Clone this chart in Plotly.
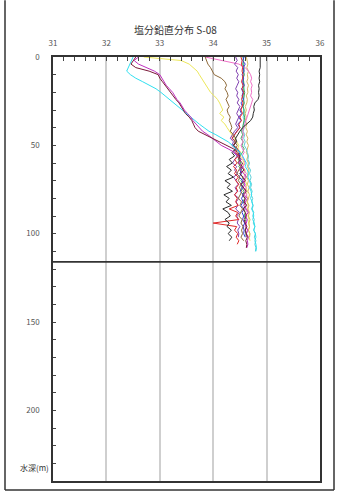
import plotly.graph_objects as go

# Sampling depths (m) shared by all casts
DEPTH = [0, 2, 4, 6, 8, 10, 12, 14, 16, 18, 20, 22, 24, 26, 28, 30, 32, 34, 36, 38,
         40, 42, 44, 46, 48, 50, 52, 54, 56, 58, 60, 62, 64, 66, 68, 70, 72, 74, 76, 78,
         80, 82, 84, 86, 88, 90, 92, 94, 96, 98, 100, 102, 104, 106, 108, 110]

# Salinity profiles (PSU), one list per cast
SAL_CYAN = [32.50, 32.47, 32.44, 32.40, 32.38, 32.45, 32.55, 32.68, 32.80, 32.93, 33.02, 33.10,
            33.18, 33.25, 33.32, 33.40, 33.48, 33.56, 33.65, 33.74, 33.83, 33.92, 34.05, 34.18,
            34.28, 34.36, 34.44, 34.50, 34.55, 34.58, 34.62, 34.60, 34.64, 34.66, 34.65, 34.68,
            34.70, 34.68, 34.71, 34.72, 34.70, 34.73, 34.74, 34.72, 34.75, 34.76, 34.74, 34.77,
            34.78, 34.76, 34.79, 34.80, 34.78, 34.80, 34.81, 34.80]
SAL_MAROON = [32.55, 32.50, 32.46, 32.55, 32.80, 32.97, 33.00, 33.05, 33.10, 33.14, 33.20, 33.25,
              33.30, 33.36, 33.40, 33.44, 33.48, 33.55, 33.60, 33.63, 33.66, 33.72, 33.85, 34.00,
              34.12, 34.25, 34.38, 34.45, 34.50, 34.48, 34.55, 34.52, 34.58, 34.50, 34.55, 34.60,
              34.52, 34.57, 34.62, 34.55, 34.60, 34.58, 34.63, 34.56, 34.60, 34.62, 34.58, 34.60,
              34.63, 34.60, 34.62, 34.64, 34.61, 34.63, 34.62]
SAL_VIOLET = [32.60, 32.52, 32.60, 32.75, 32.90, 33.00, 33.04, 33.08, 33.12, 33.18, 33.24, 33.28,
              33.32, 33.38, 33.42, 33.46, 33.52, 33.58, 33.62, 33.68, 33.74, 33.80, 33.90, 33.98,
              34.05, 34.15, 34.28, 34.40, 34.46, 34.52, 34.48, 34.55, 34.50, 34.58, 34.62, 34.55,
              34.60, 34.56, 34.62, 34.58, 34.64, 34.60, 34.57, 34.62, 34.66, 34.60, 34.64, 34.62,
              34.60, 34.65, 34.62, 34.66, 34.64, 34.65, 34.63]
SAL_PINK = [33.85, 34.20, 34.48, 34.60, 34.66, 34.70, 34.72, 34.70, 34.73, 34.71, 34.72, 34.70,
            34.74, 34.72, 34.70, 34.68, 34.66, 34.64, 34.62, 34.60, 34.58, 34.55, 34.57, 34.54,
            34.56, 34.52, 34.55, 34.58, 34.54, 34.57, 34.60, 34.56, 34.58, 34.62, 34.57, 34.60,
            34.58, 34.62, 34.59, 34.63, 34.60, 34.58, 34.62, 34.60, 34.64, 34.61, 34.63, 34.60,
            34.62, 34.64, 34.62, 34.63]
SAL_YELLOW = [32.70, 33.40, 33.55, 33.62, 33.70, 33.74, 33.78, 33.82, 33.86, 33.90, 33.95, 34.02,
              34.08, 34.12, 34.15, 34.18, 34.12, 34.20, 34.15, 34.22, 34.26, 34.30, 34.35, 34.40,
              34.44, 34.48, 34.46, 34.52, 34.50, 34.55, 34.58, 34.55, 34.60, 34.57, 34.62, 34.60,
              34.63, 34.61, 34.64, 34.62, 34.65, 34.63, 34.66, 34.64, 34.66, 34.65, 34.67, 34.66,
              34.68, 34.66, 34.68, 34.67, 34.69]
SAL_BROWN = [33.85, 33.88, 33.90, 33.95, 33.98, 34.02, 34.15, 34.22, 34.25, 34.22, 34.26, 34.28,
             34.24, 34.27, 34.30, 34.26, 34.28, 34.32, 34.30, 34.33, 34.35, 34.32, 34.38, 34.42,
             34.40, 34.45, 34.42, 34.48, 34.45, 34.50, 34.46, 34.52, 34.48, 34.44, 34.50, 34.47,
             34.52, 34.49, 34.54, 34.50, 34.47, 34.53, 34.50, 34.55, 34.51, 34.48, 34.54, 34.52,
             34.56, 34.53, 34.55, 34.52, 34.57]
SAL_BLACK = [34.88, 34.88, 34.87, 34.88, 34.86, 34.87, 34.86, 34.87, 34.85, 34.86, 34.85, 34.86,
             34.84, 34.78, 34.76, 34.77, 34.75, 34.74, 34.70, 34.62, 34.55, 34.50, 34.46, 34.42,
             34.44, 34.38, 34.42, 34.35, 34.40, 34.30, 34.36, 34.25, 34.34, 34.28, 34.38, 34.22,
             34.32, 34.26, 34.36, 34.20, 34.30, 34.24, 34.34, 34.18, 34.28, 34.32, 34.22, 34.30,
             34.26, 34.34, 34.28, 34.35, 34.30]
SAL_BLUE = [34.58, 34.55, 34.60, 34.56, 34.58, 34.54, 34.57, 34.55, 34.58, 34.53, 34.56, 34.54,
            34.57, 34.52, 34.55, 34.50, 34.53, 34.48, 34.52, 34.46, 34.50, 34.44, 34.40, 34.36,
            34.42, 34.38, 34.45, 34.50, 34.48, 34.52, 34.47, 34.55, 34.50, 34.53, 34.48, 34.56,
            34.52, 34.55, 34.50, 34.57, 34.53, 34.56, 34.52, 34.58, 34.54, 34.57, 34.55, 34.59,
            34.56, 34.58, 34.57, 34.60]
SAL_PURPLE = [34.42, 34.45, 34.40, 34.46, 34.43, 34.47, 34.44, 34.48, 34.45, 34.42, 34.46, 34.44,
              34.48, 34.45, 34.50, 34.47, 34.44, 34.48, 34.45, 34.42, 34.46, 34.40, 34.36, 34.32,
              34.38, 34.35, 34.42, 34.38, 34.45, 34.40, 34.36, 34.44, 34.40, 34.46, 34.38, 34.43,
              34.47, 34.41, 34.45, 34.40, 34.48, 34.43, 34.46, 34.42, 34.49, 34.44, 34.47, 34.45,
              34.50, 34.46, 34.48, 34.47]
SAL_TAN = [34.62, 34.64, 34.65, 34.63, 34.66, 34.64, 34.65, 34.63, 34.66, 34.64, 34.65, 34.62,
           34.64, 34.63, 34.60, 34.62, 34.60, 34.62, 34.60, 34.63, 34.61, 34.64, 34.62, 34.65,
           34.63, 34.66, 34.64, 34.62, 34.65, 34.63, 34.66, 34.64, 34.67, 34.65, 34.63, 34.66,
           34.64, 34.67, 34.65, 34.68, 34.66, 34.64, 34.67, 34.65, 34.68, 34.66, 34.69, 34.67,
           34.68, 34.66, 34.69, 34.68]
SAL_GREEN = [34.56, 34.57, 34.56, 34.58, 34.57, 34.58, 34.56, 34.57, 34.58, 34.57, 34.59, 34.58,
             34.57, 34.58, 34.56, 34.58, 34.57, 34.59, 34.58, 34.56, 34.55, 34.53, 34.55, 34.52,
             34.56, 34.54, 34.58, 34.55, 34.50, 34.47, 34.52, 34.48, 34.54, 34.50, 34.56, 34.52,
             34.57, 34.53, 34.58, 34.55, 34.59, 34.56, 34.60, 34.57, 34.60, 34.58, 34.61, 34.59,
             34.62, 34.60, 34.61, 34.62]
SAL_RED = [34.52, 34.54, 34.53, 34.55, 34.54, 34.56, 34.55, 34.53, 34.56, 34.54, 34.57, 34.55,
           34.53, 34.56, 34.54, 34.52, 34.55, 34.50, 34.53, 34.48, 34.50, 34.45, 34.40, 34.35,
           34.42, 34.38, 34.46, 34.42, 34.48, 34.40, 34.45, 34.38, 34.44, 34.40, 34.47, 34.42,
           34.48, 34.43, 34.46, 34.40, 34.45, 34.42, 34.47, 34.30, 34.46, 34.42, 34.48, 34.00,
           34.44, 34.40, 34.46, 34.43, 34.48, 34.45]
SAL_TEAL = [34.56, 34.57, 34.55, 34.57, 34.56, 34.58, 34.56, 34.57, 34.55, 34.58, 34.56, 34.57,
            34.55, 34.58, 34.56, 34.57, 34.58, 34.56, 34.59, 34.57, 34.58, 34.56, 34.59, 34.57,
            34.60, 34.58, 34.62, 34.64, 34.66, 34.65, 34.68, 34.66, 34.70, 34.68, 34.71, 34.69,
            34.72, 34.70, 34.73, 34.71, 34.74, 34.72, 34.75, 34.73, 34.76, 34.74, 34.77, 34.75,
            34.78, 34.76, 34.79, 34.77, 34.80, 34.78, 34.80, 34.79]

PROFILES = [
    (SAL_YELLOW, "#EDE85A"),
    (SAL_TAN, "#D8B868"),
    (SAL_TEAL, "#5FD0D8"),
    (SAL_GREEN, "#3AA860"),
    (SAL_PINK, "#F070C8"),
    (SAL_BLUE, "#3838D8"),
    (SAL_PURPLE, "#8040B0"),
    (SAL_RED, "#E02828"),
    (SAL_BROWN, "#8E6A3A"),
    (SAL_BLACK, "#2A2A2A"),
    (SAL_CYAN, "#30E0F0"),
    (SAL_VIOLET, "#C030C0"),
    (SAL_MAROON, "#7A1838"),
]

SEABED_DEPTH = 116
X_TICKS = [31, 32, 33, 34, 35, 36]
Y_TICKS = [0, 50, 100, 150, 200]
TITLE = "塩分鉛直分布 S-08"
DEPTH_LABEL = "水深(m)"

W, H = 343, 495
L, R, T, B = 53, 320, 57, 483  # plot area in pixels


def px_x(p):
    return (p - L) / (R - L)


def px_y(p):
    return (B - p) / (B - T)


FONT = "Noto Sans CJK JP"

fig = go.Figure()
for sal, color in PROFILES:
    fig.add_trace(go.Scatter(
        x=sal, y=DEPTH[:len(sal)], mode="lines",
        line=dict(color=color, width=1), showlegend=False, hoverinfo="skip",
    ))

fig.update_layout(
    width=W, height=H,
    margin=dict(l=L, r=W - R, t=T, b=H - B),
    paper_bgcolor="white", plot_bgcolor="white",
    font=dict(family=FONT, size=8, color="#555555"),
    xaxis=dict(
        range=[31, 36], side="top", tickvals=X_TICKS,
        ticktext=[str(v) for v in X_TICKS],
        ticks="inside", ticklen=4, tickcolor="#444444", ticklabelstandoff=6,
        minor=dict(dtick=0.2, ticks="inside", ticklen=4, tickcolor="#444444", showgrid=False),
        showgrid=True, gridcolor="#CFCFCF", gridwidth=1.5,
        showline=True, linecolor="#333333", linewidth=1.5, mirror=True,
        zeroline=False, fixedrange=True,
    ),
    yaxis=dict(
        range=[240, 0], tickvals=Y_TICKS, ticktext=[str(v) for v in Y_TICKS],
        ticks="inside", ticklen=3, tickcolor="#444444", ticklabelstandoff=10,
        minor=dict(dtick=10, ticks="inside", ticklen=3, tickcolor="#444444", showgrid=False),
        showgrid=False, showline=True, linecolor="#333333", linewidth=1.5, mirror=True,
        zeroline=False, fixedrange=True,
    ),
)

# seabed line across the full plot width
fig.add_shape(type="line", xref="paper", yref="y", x0=0, x1=1,
              y0=SEABED_DEPTH, y1=SEABED_DEPTH, line=dict(color="#333333", width=1.8))

# outer frame
fig.add_shape(type="line", xref="paper", yref="paper", x0=px_x(5), x1=px_x(5),
              y0=px_y(0), y1=px_y(492), line=dict(color="#333333", width=1.5))
fig.add_shape(type="line", xref="paper", yref="paper", x0=px_x(334), x1=px_x(334),
              y0=px_y(0), y1=px_y(492), line=dict(color="#333333", width=1.5))
fig.add_shape(type="line", xref="paper", yref="paper", x0=px_x(5), x1=px_x(334),
              y0=px_y(492), y1=px_y(492), line=dict(color="#333333", width=1.5))

fig.add_annotation(text=TITLE, xref="paper", yref="paper", x=px_x(175), y=px_y(20),
                   showarrow=False, font=dict(family=FONT, size=10, color="#333333"))
fig.add_annotation(text=DEPTH_LABEL, xref="paper", yref="paper", x=px_x(51), y=px_y(477),
                   xanchor="right", showarrow=False,
                   font=dict(family=FONT, size=8, color="#333333"))

fig.write_html("out.html")
